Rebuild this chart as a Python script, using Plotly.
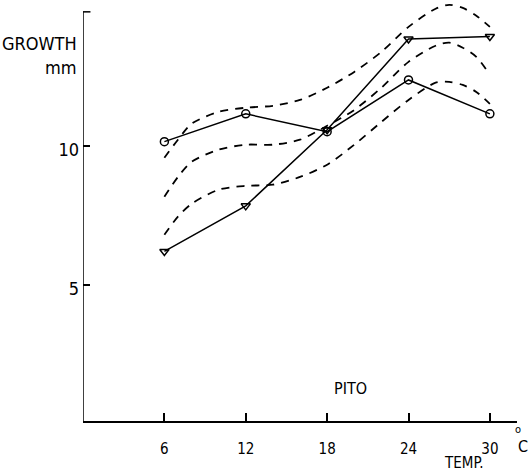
import plotly.graph_objects as go

# Data
temps = [6, 12, 18, 24, 30]
growth_circle = [10.15, 11.15, 10.51, 12.37, 11.15]
growth_triangle = [6.2, 7.84, 10.58, 13.84, 13.93]

curve_x = [6, 7, 8, 10, 12, 14, 16, 18, 20, 22, 24, 26, 27, 28, 29, 30]
curve_upper = [9.57, 10.22, 10.79, 11.22, 11.37, 11.44, 11.65, 12.09, 12.66, 13.38, 14.28, 14.93, 15.07, 14.96, 14.68, 14.28]
curve_middle = [8.17, 8.88, 9.42, 9.86, 10.04, 10.04, 10.22, 10.72, 11.29, 12.09, 13.02, 13.6, 13.71, 13.53, 13.2, 12.55]
curve_lower = [6.80, 7.45, 7.91, 8.42, 8.56, 8.60, 8.88, 9.32, 10.04, 10.86, 11.65, 12.27, 12.30, 12.19, 11.94, 11.51]

x_ticks = [6, 12, 18, 24, 30]
y_ticks = [5, 10]

FONT = "DejaVu Sans Condensed, Liberation Sans Narrow, DejaVu Sans, sans-serif"
fig = go.Figure()

for cy in (curve_upper, curve_middle, curve_lower):
    fig.add_trace(go.Scatter(x=curve_x, y=cy, mode="lines",
                             line=dict(color="black", width=1.8, dash="8px,7px", shape="spline", smoothing=0.8),
                             hoverinfo="skip"))

fig.add_trace(go.Scatter(x=temps, y=growth_circle, mode="lines+markers",
                         line=dict(color="black", width=1.5),
                         marker=dict(symbol="circle-open", size=8, color="black", line=dict(width=1.5))))
fig.add_trace(go.Scatter(x=temps, y=growth_triangle, mode="lines+markers",
                         line=dict(color="black", width=1.5),
                         marker=dict(symbol="triangle-down-open", size=8, color="black", line=dict(width=1.5))))

# y axis line and top tick
fig.add_shape(type="line", xref="x", yref="y", x0=0, x1=0, y0=0.1, y1=14.82,
              line=dict(color="black", width=1.5))
fig.add_shape(type="line", xref="x", yref="y", x0=0, x1=0.55, y0=14.82, y1=14.82,
              line=dict(color="black", width=1.5))

fig.update_layout(
    width=530, height=475,
    margin=dict(l=83, r=13, t=1, b=54),
    plot_bgcolor="white", paper_bgcolor="white",
    showlegend=False,
    font=dict(family=FONT, size=13, color="black"),
    xaxis=dict(range=[0, 32], showgrid=False, zeroline=False, showline=True,
               linecolor="black", linewidth=1.5,
               tickmode="array", tickvals=x_ticks, ticktext=[str(v) for v in x_ticks],
               ticks="inside", ticklen=8, tickwidth=1.5, tickcolor="black",
               ticklabelstandoff=13, tickfont=dict(family=FONT, size=15)),
    yaxis=dict(range=[0.1, 15.21], showgrid=False, zeroline=False, showline=False,
               tickmode="array", tickvals=y_ticks, ticktext=[str(v) for v in y_ticks],
               ticks="inside", ticklen=7, tickwidth=1.5, tickcolor="black",
               ticklabelstandoff=3, ticklabelshift=4, tickfont=dict(family=FONT, size=18)),
)

anns = [
    dict(text="GROWTH", x=79, y=43.5, xanchor="right", size=18),
    dict(text="mm", x=79, y=67, xanchor="right", size=18),
    dict(text="PITO", x=350, y=388, xanchor="center", size=16),
    dict(text="TEMP.", x=464, y=463, xanchor="center", size=15),
    dict(text="C", x=523, y=446, xanchor="center", size=16),
    dict(text="o", x=518, y=429, xanchor="center", size=11),
]
for a in anns:
    fig.add_annotation(xref="paper", yref="paper",
                       x=(a["x"] - 83) / 434, y=(421 - a["y"]) / 420,
                       text=a["text"], showarrow=False, xanchor=a["xanchor"], yanchor="middle",
                       font=dict(family=FONT, size=a["size"], color="black"))

fig.write_html("out.html")
